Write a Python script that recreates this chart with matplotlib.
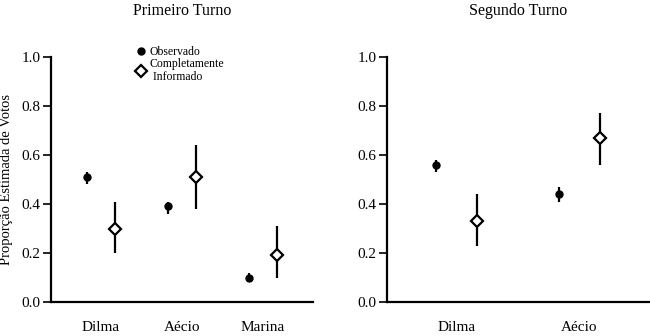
import matplotlib as mpl
import matplotlib.pyplot as plt
import numpy as np

mpl.rcParams['font.family'] = 'Liberation Serif'
mpl.rcParams['font.size'] = 11

# primeiro turno
cand1 = ['Dilma', 'Aécio', 'Marina']
obs1 = [0.51, 0.39, 0.10]
obs1_lo = [0.48, 0.36, 0.09]
obs1_hi = [0.53, 0.41, 0.12]
inf1 = [0.30, 0.51, 0.19]
inf1_lo = [0.20, 0.38, 0.10]
inf1_hi = [0.41, 0.64, 0.31]

# segundo turno
cand2 = ['Dilma', 'Aécio']
obs2 = [0.56, 0.44]
obs2_lo = [0.53, 0.41]
obs2_hi = [0.58, 0.47]
inf2 = [0.33, 0.67]
inf2_lo = [0.23, 0.56]
inf2_hi = [0.44, 0.77]

off = 0.167


def plotpanel(ax, cands, obs, olo, ohi, inf, ilo, ihi, title, xlim):
    x = np.arange(1, len(cands) + 1)
    ax.vlines(x - off, olo, ohi, color='black', lw=1.6, clip_on=False)
    ax.plot(x - off, obs, 'o', color='black', ms=5, clip_on=False, label='Observado')
    ax.vlines(x + off, ilo, ihi, color='black', lw=1.6, clip_on=False)
    ax.plot(x + off, inf, 'D', mfc='white', mec='black', mew=1.6, ms=6.5,
            clip_on=False, label='Completamente\n Informado')
    ax.set_xlim(*xlim)
    ax.set_ylim(0, 1)
    ax.set_xticks(x)
    ax.set_xticklabels(cands)
    ax.tick_params(axis='x', length=0, pad=14)
    ax.set_yticks([0, 0.2, 0.4, 0.6, 0.8, 1.0])
    ax.set_yticklabels(['0.0', '0.2', '0.4', '0.6', '0.8', '1.0'])
    ax.tick_params(axis='y', length=6, width=1.2, direction='out', pad=1.5)
    for s in ['top', 'right']:
        ax.spines[s].set_visible(False)
    ax.spines['left'].set_linewidth(1.6)
    ax.spines['bottom'].set_linewidth(1.6)
    ax.set_title(title, fontsize=11.5, y=1.17, pad=0)


fig = plt.figure(figsize=(6.5, 3.36), dpi=100)
ax1 = fig.add_axes([0.0785, 0.1012, 0.403, 0.729])
ax2 = fig.add_axes([0.595, 0.1012, 0.405, 0.729])

plotpanel(ax1, cand1, obs1, obs1_lo, obs1_hi, inf1, inf1_lo, inf1_hi,
          'Primeiro Turno', (0.383, 3.617))
plotpanel(ax2, cand2, obs2, obs2_lo, obs2_hi, inf2, inf2_lo, inf2_hi,
          'Segundo Turno', (0.426, 2.58))

ax1.set_ylabel('Proporção Estimada de Votos', fontsize=10.5, labelpad=6)
leg = ax1.legend(loc='upper left', bbox_to_anchor=(0.3, 1.07), frameon=False,
                 fontsize=8.5, handlelength=1, handletextpad=0.2, labelspacing=0.05,
                 borderpad=0)
for t in leg.get_texts():
    t.set_linespacing(1.1)

fig.savefig('out.png', dpi=100)
